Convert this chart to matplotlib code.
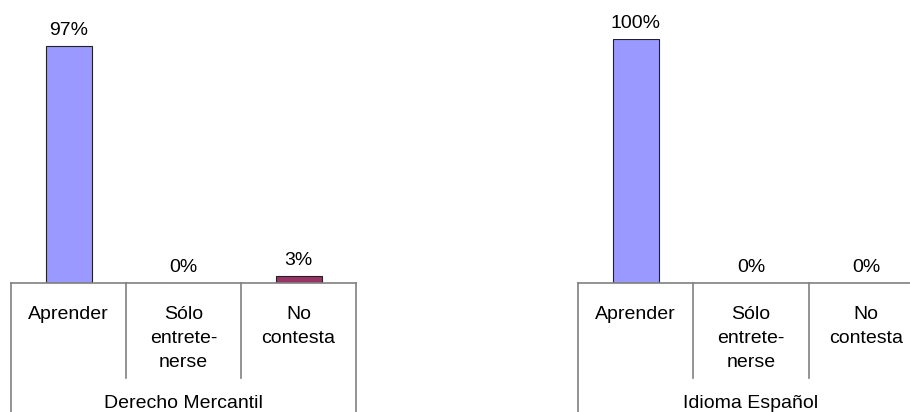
import matplotlib.pyplot as plt

plt.rcParams['font.family'] = ['Liberation Sans', 'DejaVu Sans']

groups = ['Derecho Mercantil', 'Idioma Español']
categories = ['Aprender', 'Sólo\nentrete-\nnerse', 'No\ncontesta']
mercantil = [97, 0, 3]
espanol = [100, 0, 0]
bar_colors = ['#9999FF', '#993366', '#993366']

W, H = 910, 412
fig = plt.figure(figsize=(W / 100, H / 100), dpi=100)

base_px = 283   # axis line (pixel row)
top_px = 39     # 100% level
line_col = '#808080'


def ya(p):
    # pixel row -> axes fraction
    return (base_px - p) / (base_px - top_px)


def draw_panel(left_px, width_px, values, group):
    ax = fig.add_axes([left_px / W, 1 - base_px / H, width_px / W, (base_px - top_px) / H])
    x = range(len(categories))
    ax.bar(x, values, width=0.4, color=bar_colors, edgecolor='#222222', linewidth=0.8, zorder=1)
    for xi, v in zip(x, values):
        ax.annotate('%d%%' % v, (xi, v), xytext=(0, 5), textcoords='offset points',
                    ha='center', va='bottom', fontsize=14, annotation_clip=False)
    ax.set_xlim(-0.5, len(categories) - 0.5)
    ax.set_ylim(0, 100)
    for s in ['top', 'right', 'left']:
        ax.spines[s].set_visible(False)
    ax.spines['bottom'].set_color(line_col)
    ax.spines['bottom'].set_linewidth(1.2)
    ax.set_xticks([])
    ax.set_yticks([])
    tr = ax.get_xaxis_transform()
    # category boxes
    for b in [-0.5, 0.5, 1.5, len(categories) - 0.5]:
        outer = b in (-0.5, len(categories) - 0.5)
        ax.plot([b, b], [0, ya(420 if outer else 378)], transform=tr,
                color=line_col, lw=1.2, clip_on=False)
    for xi, c in zip(x, categories):
        ax.text(xi, ya(306), c, transform=tr, ha='center', va='top',
                fontsize=14, linespacing=1.55)
    ax.text((len(categories) - 1) / 2, ya(403), group, transform=tr,
            ha='center', va='center', fontsize=14)
    return ax


draw_panel(11, 345, mercantil, groups[0])
draw_panel(578, 346, espanol, groups[1])

fig.savefig('out.png', dpi=100)
